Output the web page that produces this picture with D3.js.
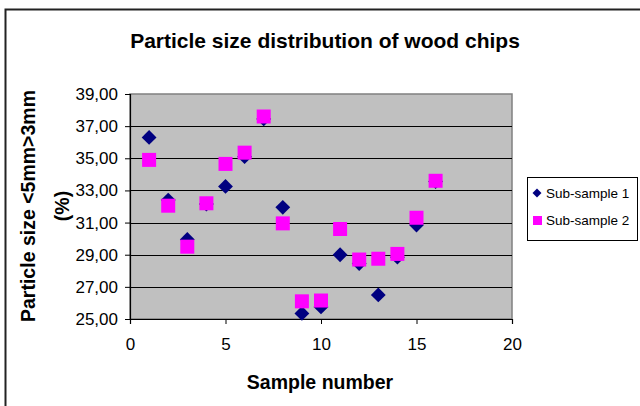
<!DOCTYPE html>
<html>
<head>
<meta charset="utf-8">
<script src="https://cdn.jsdelivr.net/npm/d3@7"></script>
<style>
  html, body { margin: 0; padding: 0; background: #fff; }
  svg { display: block; font-family: "Liberation Sans", Arial, sans-serif; }
</style>
</head>
<body>
<svg id="chart" width="640" height="406"></svg>
<script>
const samples = [1, 2, 3, 4, 5, 6, 7, 8, 9, 10, 11, 12, 13, 14, 15, 16];
const subSample1 = [36.3, 32.4, 29.95, 32.15, 33.25, 35.1, 37.45, 31.95, 25.35, 25.75, 29.0, 28.45, 26.5, 28.85, 30.85, 33.55];
const subSample2 = [34.9, 32.05, 29.5, 32.2, 34.65, 35.35, 37.6, 30.95, 26.1, 26.15, 30.6, 28.7, 28.75, 29.05, 31.3, 33.6];
const seriesNames = ["Sub-sample 1", "Sub-sample 2"];
const xTicks = [0, 5, 10, 15, 20];
const yTicks = [25, 27, 29, 31, 33, 35, 37, 39];

(function () {
const svg = d3.select("#chart");

// outer chart border (extends beyond the window at right/bottom)
svg.append("rect").attr("x", 5.5).attr("y", 9.5).attr("width", 660).attr("height", 420)
  .attr("fill", "#fff").attr("stroke", "#222").attr("stroke-width", 2);

const pL = 130, pR = 512, pT = 94, pB = 319;
const x = d3.scaleLinear().domain([0, 20]).range([pL, pR]);
const y = d3.scaleLinear().domain([25, 39]).range([pB, pT]);

// plot area
svg.append("rect").attr("x", pL).attr("y", pT).attr("width", pR - pL).attr("height", pB - pT)
  .attr("fill", "#C0C0C0").attr("stroke", "#808080").attr("stroke-width", 1.5);

// gridlines
svg.append("g").selectAll("line").data(yTicks.filter(d => d !== 25 && d !== 39)).join("line")
  .attr("x1", pL).attr("x2", pR).attr("y1", d => Math.round(y(d)) + 0.5).attr("y2", d => Math.round(y(d)) + 0.5)
  .attr("stroke", "#000").attr("stroke-width", 1.2);

// axes
const fmt = d => d.toFixed(2).replace(".", ",");
const yAxis = svg.append("g").attr("transform", `translate(${pL},0)`)
  .call(d3.axisLeft(y).tickValues(yTicks).tickFormat(fmt).tickSize(5).tickPadding(7));
const xAxis = svg.append("g").attr("transform", `translate(0,${pB})`)
  .call(d3.axisBottom(x).tickValues(xTicks).tickSize(5).tickPadding(14));
[yAxis, xAxis].forEach(a => {
  a.select(".domain").attr("stroke", "#000").attr("stroke-width", 1.2);
  a.selectAll(".tick line").attr("stroke", "#000");
  a.selectAll("text").attr("font-size", 17).attr("fill", "#000").attr("font-family", "Liberation Sans, Arial, sans-serif");
});

// markers
const diamond = d3.symbol().type(d3.symbolSquare).size(110);
svg.append("g").selectAll("path").data(samples).join("path")
  .attr("d", diamond)
  .attr("transform", (d, i) => `translate(${x(d)},${y(subSample1[i])}) rotate(45)`)
  .attr("fill", "#000080");

const sq = 14;
svg.append("g").selectAll("rect").data(samples).join("rect")
  .attr("x", d => x(d) - sq / 2).attr("y", (d, i) => y(subSample2[i]) - sq / 2)
  .attr("width", sq).attr("height", sq)
  .attr("fill", "#FF00FF");

// title
svg.append("text").attr("x", 325).attr("y", 48).attr("text-anchor", "middle")
  .attr("font-size", 21).attr("font-weight", "bold").text("Particle size distribution of wood chips");

// axis titles
svg.append("text").attr("x", 320).attr("y", 389).attr("text-anchor", "middle")
  .attr("font-size", 19.5).attr("font-weight", "bold").text("Sample number");
const yt = svg.append("g").attr("transform", "translate(0,206) rotate(-90)");
yt.append("text").attr("x", 0).attr("y", 35).attr("text-anchor", "middle")
  .attr("font-size", 19.5).attr("font-weight", "bold").text("Particle size <5mm>3mm");
yt.append("text").attr("x", 0).attr("y", 69).attr("text-anchor", "middle")
  .attr("font-size", 19.5).attr("font-weight", "bold").text("(%)");

// legend
const lg = svg.append("g");
lg.append("rect").attr("x", 527.5).attr("y", 177.5).attr("width", 110).attr("height", 63)
  .attr("fill", "#fff").attr("stroke", "#000").attr("stroke-width", 1);
lg.append("path").attr("d", d3.symbol().type(d3.symbolSquare).size(40)())
  .attr("transform", "translate(537,193) rotate(45)").attr("fill", "#000080");
lg.append("rect").attr("x", 533).attr("y", 216).attr("width", 9).attr("height", 9).attr("fill", "#FF00FF");
lg.selectAll("text.l").data(seriesNames).join("text").attr("class", "l")
  .attr("x", 546).attr("y", (d, i) => 198 + i * 27)
  .attr("font-size", 13.5).text(d => d);
})();
</script>
</body>
</html>
